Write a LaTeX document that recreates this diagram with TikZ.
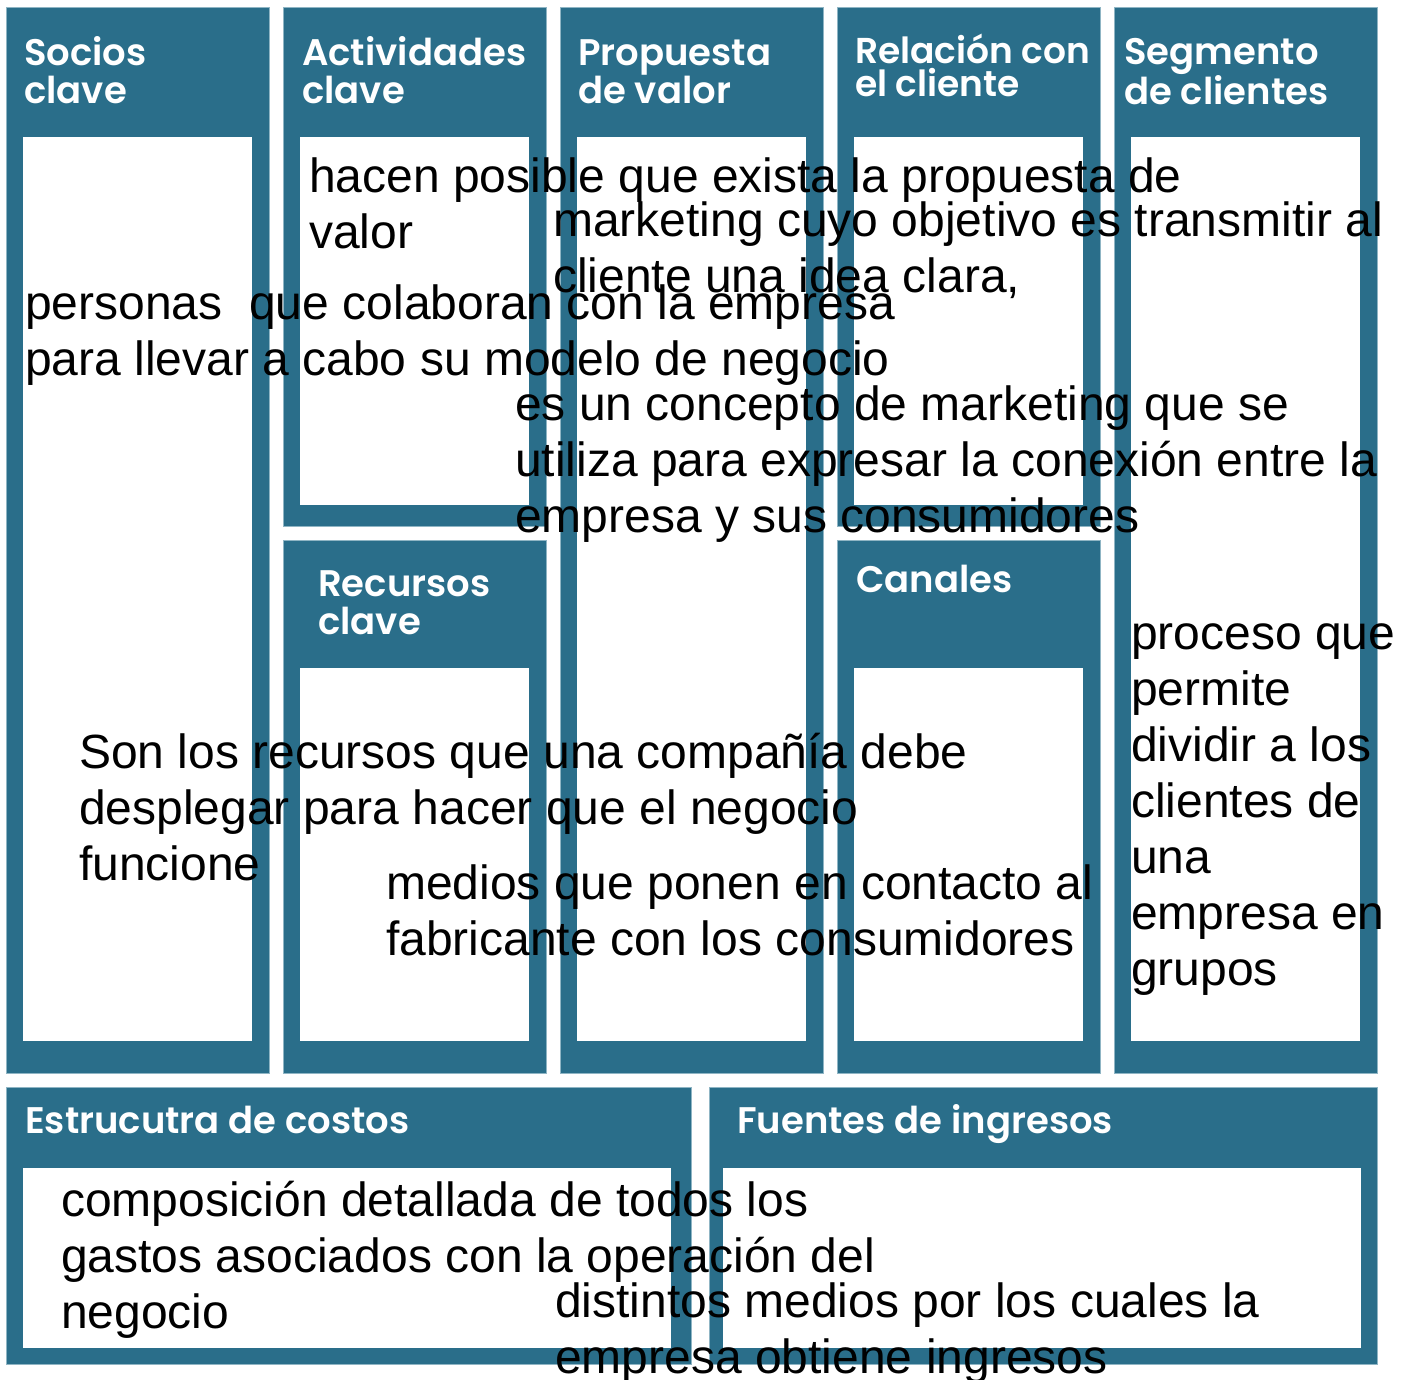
\documentclass[tikz,border=0pt]{standalone}
\usepackage{fontspec}
\setmainfont{Liberation Sans}
\newfontfamily\headfont{Poppins SemiBold}
\definecolor{canvasblue}{HTML}{2A6E8A}
\definecolor{canvasedge}{HTML}{8FB5C4}

\begin{document}
\begin{tikzpicture}[x=1pt,y=-1pt,
  panel/.style={fill=canvasblue,draw=canvasedge,line width=0.8pt},
  sheet/.style={fill=white},
  title/.style={font=\headfont\fontsize{37}{38}\selectfont,text=white,anchor=base west,inner sep=0pt,align=left},
  note/.style={font=\fontsize{48}{56}\selectfont,text=black,anchor=base west,inner sep=0pt,align=left}]
\useasboundingbox[fill=white] (0,0) rectangle (1408,1380);

% columns
\draw[panel] (6,7) rectangle (269,1073);
\fill[sheet] (23,137) rectangle (252,1041);
\draw[panel] (283,7) rectangle (546,526);
\fill[sheet] (300,137) rectangle (529,505);
\draw[panel] (283,540) rectangle (546,1073);
\fill[sheet] (300,668) rectangle (529,1041);
\draw[panel] (560,7) rectangle (823,1073);
\fill[sheet] (577,137) rectangle (806,1041);
\draw[panel] (837,7) rectangle (1100,526);
\fill[sheet] (854,137) rectangle (1083,505);
\draw[panel] (837,540) rectangle (1100,1073);
\fill[sheet] (854,668) rectangle (1083,1041);
\draw[panel] (1114,7) rectangle (1377,1073);
\fill[sheet] (1131,137) rectangle (1360,1041);

% bottom row
\draw[panel] (6,1087) rectangle (691,1364);
\fill[sheet] (23,1168) rectangle (671,1348);
\draw[panel] (709,1087) rectangle (1377,1364);
\fill[sheet] (723,1168) rectangle (1361,1348);

% titles (anchored on the baseline of the last line)
\node[title] (socios) at (24,104) {Socios\\clave};
\node[title] (actividades) at (302,104) {Actividades\\clave};
\node[title] (propuesta) at (578,104) {Propuesta\\de valor};
\node[title,font=\headfont\fontsize{36}{33}\selectfont] (relacion) at (855,97) {Relación con\\el cliente};
\node[title] (segmento) at (1124,105) {Segmento\\de clientes};
\node[title] (recursos) at (318,634) {Recursos\\clave};
\node[title] (canales) at (856,592) {Canales};
\node[title] (costos) at (25,1133) {Estrucutra de costos};
\node[title] (ingresos) at (737,1133) {Fuentes de ingresos};

% texts (anchored on the baseline of the last line)
\node[note] (txtactividades) at (309,249) {hacen posible que exista la propuesta de\\valor};
\node[note] (txtpropuesta) at (553,293) {marketing cuyo objetivo es transmitir al\\cliente una idea clara,};
\node[note] (txtsocios) at (25,375) {personas\ \ que colaboran con la empresa\\para llevar a cabo su modelo de negocio};
\node[note] (txtrelacion) at (515,532) {es un concepto de marketing que se\\utiliza para expresar la conexión entre la\\empresa y sus consumidores};
\node[note] (txtsegmento) at (1131,985) {proceso que\\permite\\dividir a los\\clientes de\\una\\empresa en\\grupos};
\node[note] (txtrecursos) at (79,880) {Son los recursos que una compañía debe\\desplegar para hacer que el negocio\\funcione};
\node[note] (txtcanales) at (386,955) {medios que ponen en contacto al\\fabricante con los consumidores};
\node[note] (txtcostos) at (61,1328) {composición detallada de todos los\\gastos asociados con la operación del\\negocio};
\node[note] (txtingresos) at (555,1373) {distintos medios por los cuales la\\empresa obtiene ingresos};
\end{tikzpicture}
\end{document}
